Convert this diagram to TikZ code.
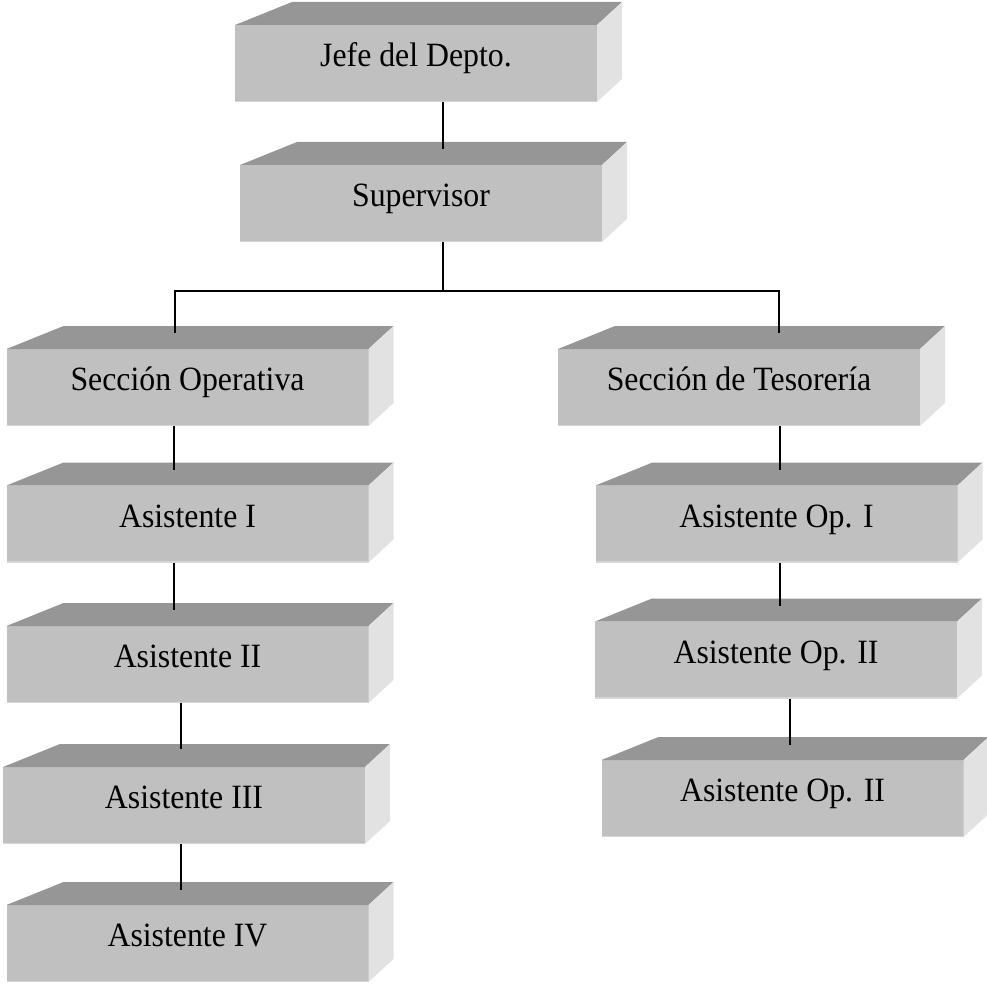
\documentclass[tikz,border=0pt]{standalone}
\usepackage{fontspec}
\setmainfont{Liberation Serif}
\usetikzlibrary{calc}

\definecolor{frontgray}{HTML}{C0C0C0}
\definecolor{topgray}{HTML}{969696}
\definecolor{sidegray}{HTML}{E2E2E2}
\definecolor{rimgray}{HTML}{D6D6D6}

\tikzset{
  frontface/.style={fill=frontgray, draw=none, inner sep=0pt, outer sep=0pt,
    minimum width=362pt, minimum height=77pt,
    text height=21pt, text depth=15pt,
    font=\fontsize{31.8}{36}\selectfont},
  topface/.style={fill=topgray},
  sideface/.style={fill=sidegray},
  rim/.style={draw=rimgray, line width=1.2pt},
  link/.style={draw=black, line width=1.6pt}
}

% a raised block: front face as a named node, plus its top and right faces
\newcommand\orgblock[3]{%
  \node[frontface] (#1) at (#2) {\scalebox{1}[1.07]{#3}};
  \fill[topface] (#1.north west) -- ++(57,-23)
    -- ([shift={(25,-23)}]#1.north east) -- (#1.north east) -- cycle;
  \fill[sideface] (#1.north east) -- ++(25,-23)
    -- ([shift={(25,-23)}]#1.south east) -- (#1.south east) -- cycle;
  \draw[rim] ([yshift=0.6pt]#1.south west) -- ([yshift=0.6pt]#1.south east);
}

\begin{document}
\begin{tikzpicture}[x=1pt, y=-1pt]
  \useasboundingbox (0,0) rectangle (987,984);

  % head of the department
  \orgblock{jefe}{416,63.5}{Jefe del Depto.}
  \orgblock{sup}{421,203.5}{Supervisor}

  % sections
  \orgblock{secop}{187.5,387.5}{Sección Operativa}
  \orgblock{sectes}{739,387.5}{Sección de Tesorería}

  % operating section staff
  \orgblock{asi}{187.5,524}{Asistente I}
  \orgblock{asii}{187.5,664.5}{Asistente II}
  \orgblock{asiii}{184,805.5}{Asistente III}
  \orgblock{asiv}{187.5,943.5}{Asistente IV}

  % treasury section staff
  \orgblock{opi}{776.5,524}{Asistente Op. I}
  \orgblock{opii}{776,660}{Asistente Op. II}
  \orgblock{opiii}{782.5,798.5}{Asistente Op. II}

  % connectors
  \draw[link] ([xshift=27pt]jefe.south) -- ([xshift=22pt,yshift=16pt]sup.north);

  \coordinate (split) at ([xshift=22pt]sup.south |- 0,291);
  \draw[link] ([xshift=22pt]sup.south) -- (split);
  \draw[link] ([xshift=-12.5pt,yshift=16pt]secop.north) |- (split)
              -| ([xshift=40pt,yshift=16pt]sectes.north);

  \draw[link] ([xshift=-13.5pt]secop.south) -- ([xshift=-13.5pt,yshift=16pt]asi.north);
  \draw[link] ([xshift=-13.5pt]asi.south) -- ([xshift=-13.5pt,yshift=16pt]asii.north);
  \draw[link] ([xshift=-6.5pt]asii.south) -- ([xshift=-3pt,yshift=18pt]asiii.north);
  \draw[link] ([xshift=-3pt]asiii.south) -- ([xshift=-6.5pt,yshift=15pt]asiv.north);

  \draw[link] ([xshift=41pt]sectes.south) -- ([xshift=3.5pt,yshift=16pt]opi.north);
  \draw[link] ([xshift=3.5pt]opi.south) -- ([xshift=4pt,yshift=16pt]opii.north);
  \draw[link] ([xshift=14pt]opii.south) -- ([xshift=7.5pt,yshift=15pt]opiii.north);
\end{tikzpicture}
\end{document}
